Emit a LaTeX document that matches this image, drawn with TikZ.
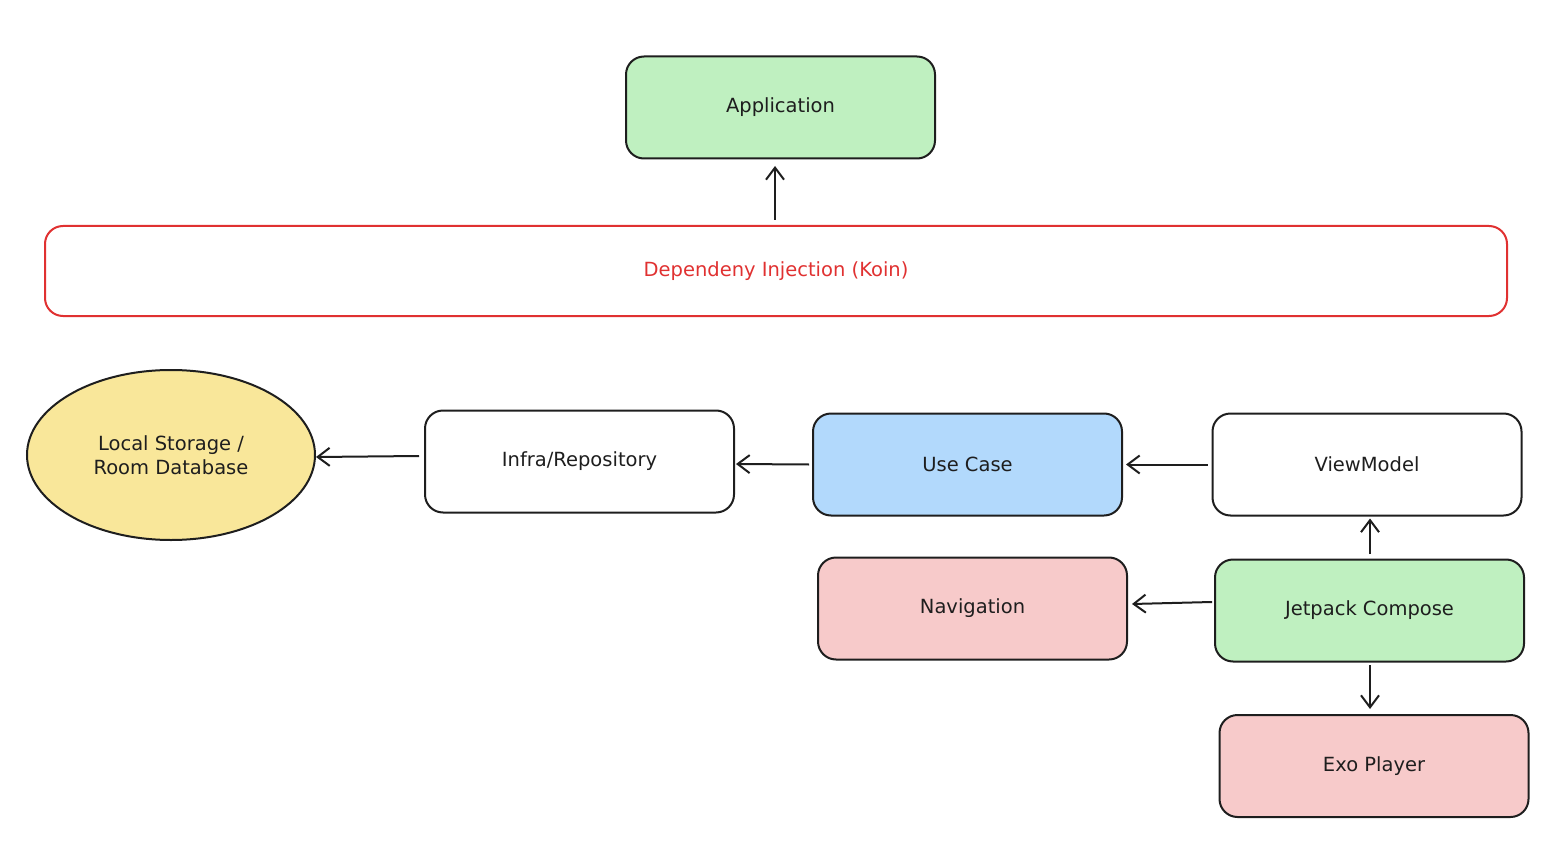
\documentclass[tikz,border=0pt]{standalone}
\usepackage{fontspec}
\setmainfont{DejaVu Sans}
\usetikzlibrary{arrows.meta,shapes.geometric}
\definecolor{ink}{HTML}{1E1E1E}
\definecolor{dired}{HTML}{E03131}
\definecolor{gfill}{HTML}{BFF0C0}
\definecolor{bfill}{HTML}{B2D9FC}
\definecolor{pfill}{HTML}{F7CACA}
\definecolor{yfill}{HTML}{F9E79A}
\tikzset{
  box/.style={draw=ink, line width=2pt, rounded corners=18pt, minimum width=309pt, minimum height=102pt, font=\fontsize{19.5}{24}\selectfont, text=ink, align=center},
  conn/.style={draw=ink, line width=2pt, -{Straight Barb[length=12pt,width=18pt,line width=2pt]}},
}
\begin{document}
\begin{tikzpicture}[x=1pt,y=-1pt]
\useasboundingbox (0,0) rectangle (1554,850);
\node[box, fill=gfill] (app) at (780.5,107.5) {Application};
\node[box, draw=dired, text=dired, minimum width=1462pt, minimum height=90pt] (di) at (776,271) {Dependeny Injection (Koin)};
\node[ellipse, draw=ink, line width=2pt, fill=yfill, minimum width=288pt, minimum height=170pt, font=\fontsize{19.5}{24}\selectfont, text=ink, align=center] (db) at (171,455) {Local Storage /\\Room Database};
\node[box, fill=white] (repo) at (579.5,461.5) {Infra/Repository};
\node[box, fill=bfill] (uc) at (967.5,464.5) {Use Case};
\node[box, fill=white] (vm) at (1367,464.5) {ViewModel};
\node[box, fill=pfill] (nav) at (972.5,608.5) {Navigation};
\node[box, fill=gfill] (jc) at (1369.5,610.5) {Jetpack Compose};
\node[box, fill=pfill] (exo) at (1374,766) {Exo Player};
\draw[conn] ([xshift=-1pt,yshift=5pt]di.north) -- ([xshift=-5.5pt,yshift=-6.5pt]app.south);
\draw[conn] ([xshift=-5pt,yshift=5.5pt]repo.west) -- ([yshift=-2pt]db.east);
\draw[conn] ([xshift=-3pt]uc.west) -- ([xshift=1pt,yshift=-2.5pt]repo.east);
\draw[conn] ([xshift=-4pt]vm.west) -- ([xshift=3pt]uc.east);
\draw[conn] ([xshift=0.5pt,yshift=4.5pt]jc.north) -- ([xshift=3pt,yshift=-2pt]vm.south);
\draw[conn] ([xshift=-2pt,yshift=8.5pt]jc.west) -- ([xshift=4pt,yshift=4.5pt]nav.east);
\draw[conn] ([xshift=0.5pt,yshift=-2.5pt]jc.south) -- ([xshift=-4pt,yshift=5pt]exo.north);
\end{tikzpicture}
\end{document}
